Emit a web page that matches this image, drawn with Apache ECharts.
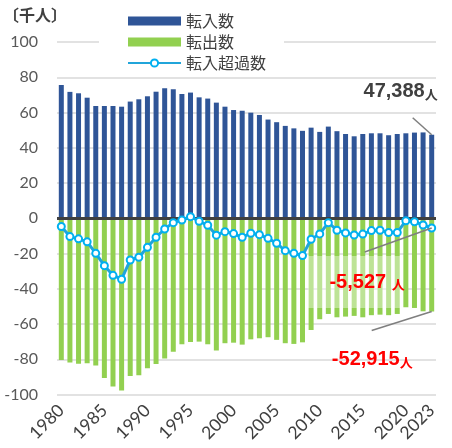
<!DOCTYPE html>
<html>
<head>
<meta charset="utf-8">
<script src="https://cdn.jsdelivr.net/npm/echarts@6/dist/echarts.min.js"></script>
<style>
    html, body { margin: 0; padding: 0; background: #fff; }
    #chart { width: 452px; height: 448px; }
</style>
</head>
<body>
<div id="chart"></div>
<script>
// 年
const years = [
    "1980", "1981", "1982", "1983", "1984", "1985", "1986", "1987", "1988", "1989",
    "1990", "1991", "1992", "1993", "1994", "1995", "1996", "1997", "1998", "1999",
    "2000", "2001", "2002", "2003", "2004", "2005", "2006", "2007", "2008", "2009",
    "2010", "2011", "2012", "2013", "2014", "2015", "2016", "2017", "2018", "2019",
    "2020", "2021", "2022", "2023"
]
// 転入数（千人）
const inflow = [
    75.6, 71.7, 70.9, 68.4, 63.7, 63.7, 63.7, 63.3, 66.2, 67.5,
    69.2, 71.8, 73.7, 73.2, 70.5, 71.3, 68.6, 67.9, 65.6, 63.3,
    61.4, 61.0, 59.9, 58.6, 56.0, 54.5, 52.4, 51.0, 49.6, 51.4,
    49.0, 52.0, 49.4, 47.8, 46.5, 47.8, 48.2, 48.2, 47.1, 47.8,
    48.2, 48.6, 48.7, 47.388
]
// 転出数（千人）
const outflow = [
    -80.4, -81.9, -82.5, -82.3, -83.6, -90.6, -95.5, -97.8, -89.5, -89.1,
    -85.1, -82.7, -79.6, -75.7, -71.5, -70.2, -70.0, -71.5, -75.1, -70.9,
    -70.6, -71.7, -68.7, -68.1, -67.5, -69.0, -70.9, -71.3, -70.4, -63.4,
    -57.3, -54.3, -56.2, -55.8, -55.4, -56.2, -55.0, -54.7, -55.0, -54.3,
    -50.5, -50.9, -52.8, -52.915
]
// 転入超過数（千人）
const netflow = [
    -4.7, -10.4, -11.7, -13.4, -19.9, -26.9, -32.4, -34.6, -23.7, -22.1,
    -16.5, -10.8, -6.1, -2.5, -1.0, 0.9, -1.7, -4.0, -9.6, -7.6,
    -8.7, -10.8, -8.5, -9.3, -11.4, -14.2, -18.4, -19.9, -21.2, -11.9,
    -8.9, -2.5, -6.8, -8.3, -9.5, -9.0, -7.0, -6.8, -8.1, -8.1,
    -1.4, -2.0, -3.8, -5.527
]
const yTicks = { min: -100, max: 100, interval: 20 }
const shownYears = ["1980", "1985", "1990", "1995", "2000", "2005", "2010", "2015", "2020", "2023"]

const labels = {
    inflow: ["47,388", "人"],
    net: ["-5,527 ", "人"],
    outflow: ["-52,915", "人"]
}

const jp = "'Noto Sans CJK JP', sans-serif"
const num = "Lato, 'Noto Sans CJK JP', sans-serif"

const chart = echarts.init(document.getElementById("chart"))
const option = {
    animation: false,
    grid: {
        left: 57,
        right: 16,
        top: 42,
        height: 352.5
    },
    legend: {
        orient: "vertical",
        left: 99,
        top: 3,
        padding: [10, 18, 5, 28],
        backgroundColor: "#ffffff",
        itemWidth: 53,
        itemHeight: 9,
        itemGap: 5,
        textStyle: {
            fontFamily: jp,
            fontSize: 16,
            lineHeight: 16,
            color: "#404040"
        },
        data: [
            { name: "転入数", icon: "rect" },
            { name: "転出数", icon: "rect" },
            { name: "転入超過数" }
        ]
    },
    xAxis: {
        type: "category",
        data: years,
        axisLine: { show: false, onZero: false },
        axisTick: { show: false },
        axisLabel: {
            rotate: 45,
            margin: 13,
            fontFamily: num,
            fontSize: 17.5,
            color: "#404040",
            interval: (i, v) => shownYears.includes(v)
        },
        splitLine: { show: false }
    },
    yAxis: {
        type: "value",
        min: yTicks.min,
        max: yTicks.max,
        interval: yTicks.interval,
        axisLine: { show: false },
        axisTick: { show: false },
        axisLabel: {
            margin: 19,
            fontFamily: num,
            fontSize: 16,
            color: "#595959"
        },
        splitLine: {
            lineStyle: { color: "#d9d9d9", width: 1.5 }
        }
    },
    series: [
        {
            name: "転入数",
            type: "bar",
            stack: "flow",
            barWidth: 5,
            itemStyle: { color: "#2f5597" },
            data: inflow,
            markLine: {
                silent: true,
                symbol: "none",
                label: { show: false },
                lineStyle: { color: "#404040", width: 3, type: "solid" },
                data: [{ yAxis: 0 }]
            }
        },
        {
            name: "転出数",
            type: "bar",
            stack: "flow",
            barWidth: 5,
            itemStyle: { color: "#92d050" },
            data: outflow
        },
        {
            name: "転入超過数",
            type: "line",
            z: 5,
            symbol: "circle",
            symbolSize: 7,
            showSymbol: true,
            showAllSymbol: true,
            lineStyle: { color: "#21a5da", width: 3 },
            itemStyle: { color: "#ffffff", borderColor: "#00b0f0", borderWidth: 2 },
            data: netflow
        }
    ]
}
chart.setOption(option)

// 注記（2023年の値の位置から配置）
const last = years.length - 1
const pIn = chart.convertToPixel({ gridIndex: 0 }, [last, inflow[last]])
const pNet = chart.convertToPixel({ gridIndex: 0 }, [last, netflow[last]])
const pOut = chart.convertToPixel({ gridIndex: 0 }, [last, outflow[last]])

function leader(p, dx, dy) {
    return {
        type: "line",
        silent: true,
        z: 20,
        shape: { x1: p[0] + dx, y1: p[1] + dy, x2: p[0], y2: p[1] },
        style: { stroke: "#7f7f7f", lineWidth: 1.5 }
    }
}
function note(p, dx, dy, parts, color) {
    return {
        type: "text",
        silent: true,
        z: 20,
        x: p[0] + dx,
        y: p[1] + dy,
        style: {
            text: "{a|" + parts[0] + "}{b|" + parts[1] + "}",
            align: "right",
            verticalAlign: "middle",
            rich: {
                a: { fontFamily: "'Liberation Sans', Arial, sans-serif", fontSize: 20, fontWeight: "bold", fill: color },
                b: { fontFamily: jp, fontSize: 13, fontWeight: "bold", fill: color, padding: [5, 0, 0, 0] }
            }
        }
    }
}

chart.setOption({
    graphic: [
        {
            type: "text",
            left: 3,
            top: 7,
            style: { text: "〔千人〕", fontFamily: jp, fontSize: 16, fontWeight: "bold", fill: "#404040" }
        },
        {
            type: "rect",
            silent: true,
            z: 15,
            shape: { x: pNet[0] - 124, y: pNet[1] + 28, width: 94, height: 52 },
            style: { fill: "rgba(255,255,255,0.4)" }
        },
        leader(pIn, -19, -17),
        note(pIn, 6, -43, labels.inflow, "#404040"),
        leader(pNet, -67, 24),
        note(pNet, -27, 54, labels.net, "#ff0000"),
        leader(pOut, -60, 19),
        note(pOut, -19, 48, labels.outflow, "#ff0000")
    ]
})
</script>
</body>
</html>
